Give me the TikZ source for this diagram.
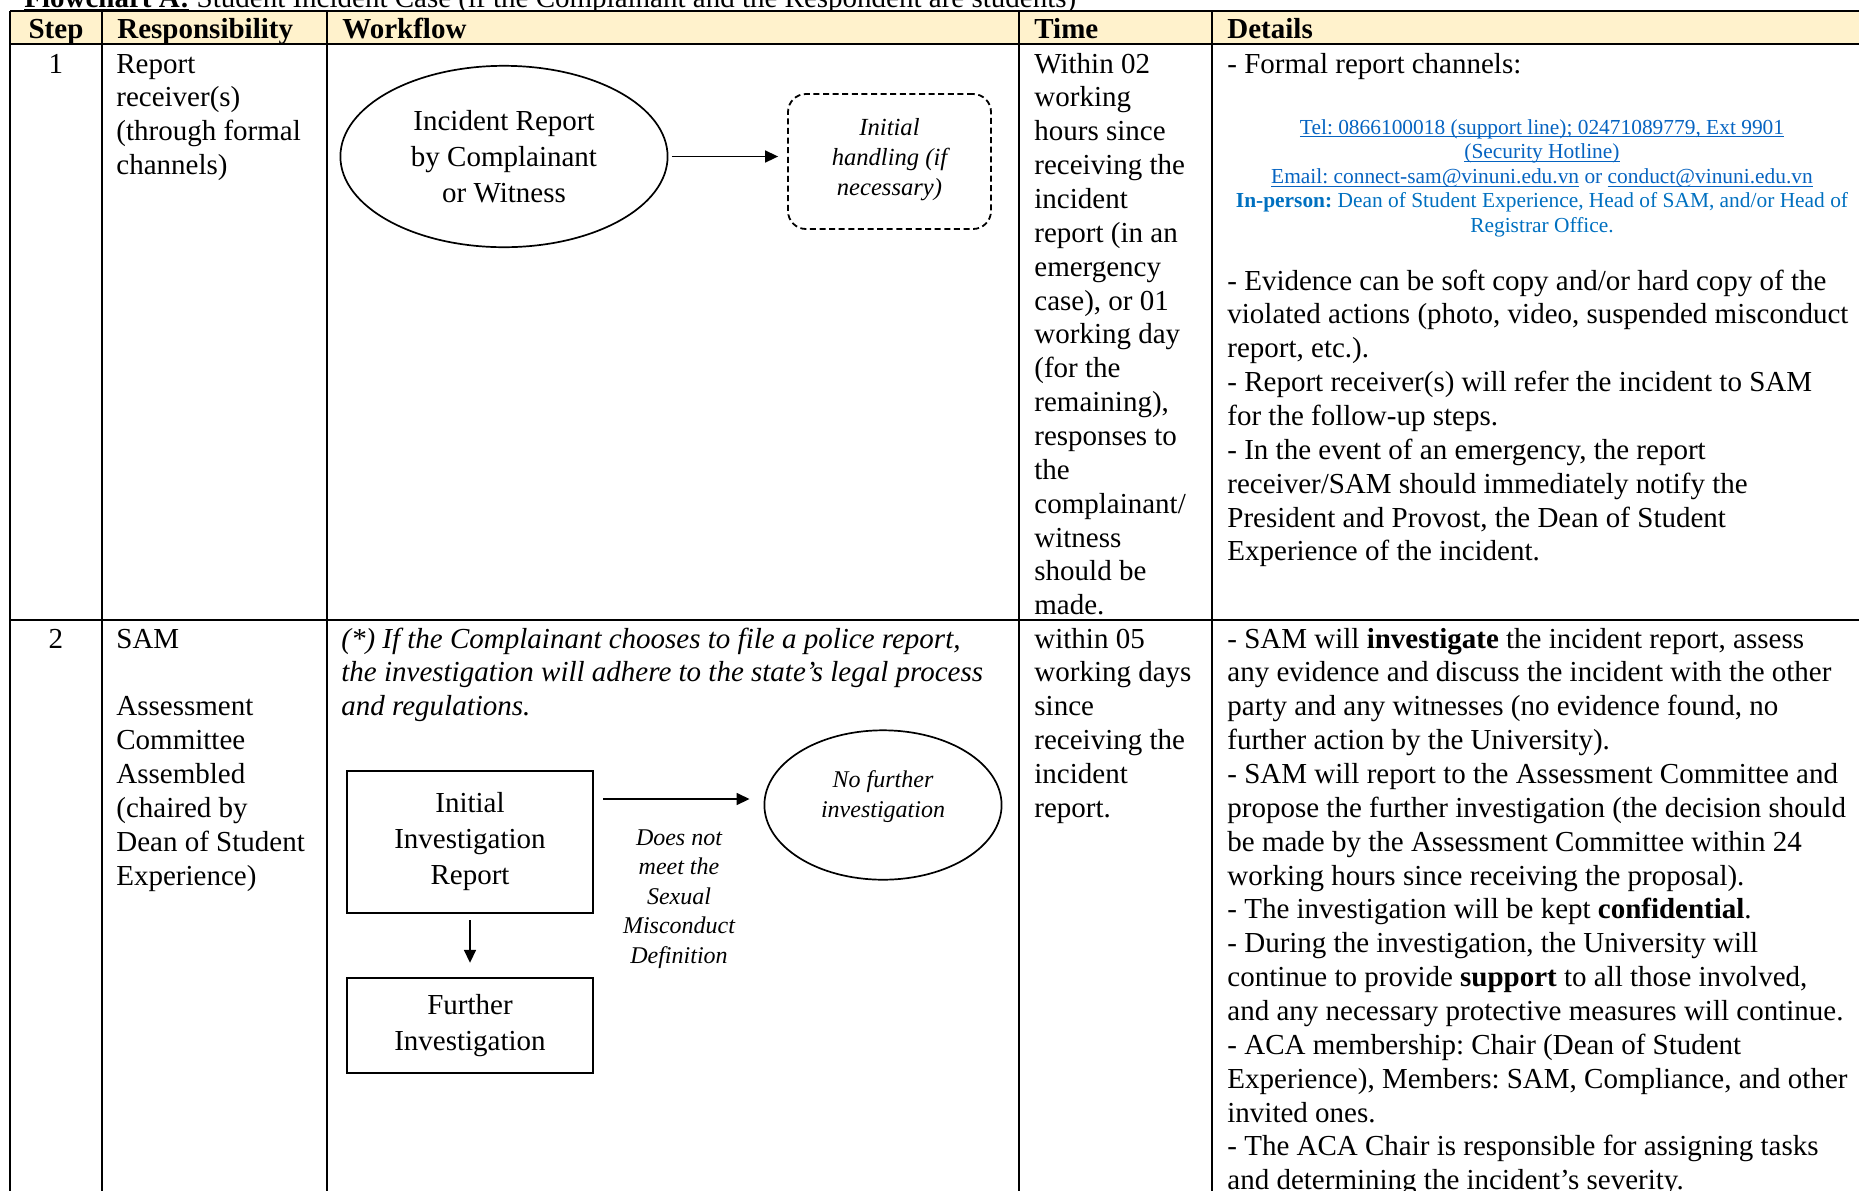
\documentclass[tikz,border=0pt]{standalone}
\usepackage{fontspec}
\setmainfont{Liberation Serif}
\usetikzlibrary{arrows.meta,shapes.geometric}
\definecolor{hdr}{HTML}{FFF2CC}
\definecolor{lnk}{HTML}{0563C1}
\definecolor{lnkb}{HTML}{0070C0}
\frenchspacing
\newcommand\myul[1]{\setbox0\hbox{#1}\rlap{\rule[-1.7pt]{\wd0}{0.55pt}}\box0\relax}
\newcommand\leftlines[1]{\begin{tabular}[t]{@{}l@{}}#1\end{tabular}}
\newcommand\centerlines[1]{\begin{tabular}[t]{@{}c@{}}#1\end{tabular}}
\begin{document}
\begin{tikzpicture}[x=0.5pt,y=-0.5pt,
  grid/.style={line width=1pt},
  txt/.style={inner sep=0pt,anchor=base west,font=\fontsize{14.5pt}{16.93pt}\selectfont},
  hd/.style={inner sep=0pt,anchor=base west,font=\fontsize{14.5pt}{16.93pt}\selectfont\bfseries},
  small/.style={inner sep=0pt,anchor=base,font=\fontsize{12pt}{14.8pt}\selectfont\itshape},
  arr/.style={line width=0.8pt,-{Triangle[length=6.5pt,width=6pt]}},
  ovalnode/.style={ellipse,draw,line width=0.85pt,inner sep=0pt},
  boxnode/.style={rectangle,draw,line width=1.2pt,inner sep=0pt,align=center,font=\fontsize{14.5pt}{18pt}\selectfont}]
\useasboundingbox (0,0) rectangle (1859,1190);
\clip (0,0) rectangle (1859,1190);
% title (cut at top)
\node[txt] (title) at (24,7) {\textbf{\myul{Flowchart A:}} Student Incident Case (if the Complainant and the Respondent are students)};
% table
\fill[hdr] (10,11) rectangle (1880,44);
\draw[grid] (10,11) -- (1880,11);
\draw[grid] (10,44) -- (1880,44);
\draw[grid] (10,620) -- (1880,620);
\foreach \cx in {10,102,327,1019,1212} {\draw[grid] (\cx,11) -- (\cx,1200);}
% header
\node[hd,anchor=base] (hstep) at (56,38) {Step};
\node[hd] (hresp) at (117,38) {Responsibility};
\node[hd] (hflow) at (342,38) {Workflow};
\node[hd] (htime) at (1034,38) {Time};
\node[hd] (hdet) at (1227,38) {Details};
% row 1
\node[txt,anchor=base] (s1) at (56,73) {1};
\node[txt] (r1) at (116,73) {\leftlines{Report\\receiver(s)\\(through formal\\channels)}};
\node[txt] (t1) at (1034,73) {\leftlines{Within 02\\working\\hours since\\receiving the\\incident\\report (in an\\emergency\\case), or 01\\working day\\(for the\\remaining),\\responses to\\the\\complainant/\\witness\\should be\\made.}};
\node[txt] (d1a) at (1227,73) {- Formal report channels:};
\node[inner sep=0pt,anchor=base,text=lnk,font=\fontsize{10.7pt}{12.3pt}\selectfont] (d1b) at (1542,134)
  {\centerlines{\myul{Tel: 0866100018 (support line); 02471089779, Ext 9901}\\
   \myul{(Security Hotline)}\\
   \myul{Email: connect-sam@vinuni.edu.vn} or \myul{conduct@vinuni.edu.vn}\\
   {\color{lnkb}\textbf{In-person:} Dean of Student Experience, Head of SAM, and/or Head of}\\
   {\color{lnkb}Registrar Office.}}};
\node[txt] (d1c) at (1227,290) {\leftlines{- Evidence can be soft copy and/or hard copy of the\\violated actions (photo, video, suspended misconduct\\report, etc.).\\- Report receiver(s) will refer the incident to SAM\\for the follow-up steps.\\- In the event of an emergency, the report\\receiver/SAM should immediately notify the\\President and Provost, the Dean of Student\\Experience of the incident.}};
% row 1 workflow
\node[ovalnode,minimum width=163.6pt,minimum height=90.7pt,align=center,font=\fontsize{14.5pt}{18.1pt}\selectfont] (ell1) at (504,156.5) {Incident Report\\by Complainant\\or Witness};
\node[draw,dashed,dash pattern=on 3pt off 1.8pt,line width=0.9pt,rounded corners=9pt,minimum width=101.5pt,minimum height=67.5pt,inner sep=0pt] (hb) at (889.5,161.5) {};
\node[small,font=\fontsize{12.3pt}{15.1pt}\selectfont\itshape] (hbt) at (889.5,135) {\centerlines{Initial\\handling (if\\necessary)}};
\draw[arr] ([xshift=1.75pt]ell1.east) -- ([xshift=-4.5pt]ell1.east -| hb.west);
% row 2
\node[txt,anchor=base] (s2) at (56,648) {2};
\node[txt] (r2) at (116,648) {\leftlines{SAM\\[16.93pt]Assessment\\Committee\\Assembled\\(chaired by\\Dean of Student\\Experience)}};
\node[txt,font=\fontsize{14.5pt}{16.93pt}\selectfont\itshape] (w2) at (341,648) {\leftlines{(*) If the Complainant chooses to file a police report,\\the investigation will adhere to the state's legal process\\and regulations.}};
\node[txt] (t2) at (1034,648) {\leftlines{within 05\\working days\\since\\receiving the\\incident\\report.}};
\node[txt] (d2) at (1227,648) {\leftlines{- SAM will \textbf{investigate} the incident report, assess\\any evidence and discuss the incident with the other\\party and any witnesses (no evidence found, no\\further action by the University).\\- SAM will report to the Assessment Committee and\\propose the further investigation (the decision should\\be made by the Assessment Committee within 24\\working hours since receiving the proposal).\\- The investigation will be kept \textbf{confidential}.\\- During the investigation, the University will\\continue to provide \textbf{support} to all those involved,\\and any necessary protective measures will continue.\\- ACA membership: Chair (Dean of Student\\Experience), Members: SAM, Compliance, and other\\invited ones.\\- The ACA Chair is responsible for assigning tasks\\and determining the incident's severity.}};
% row 2 workflow
\node[boxnode,minimum width=123pt,minimum height=71pt] (ib) at (470,842) {Initial\\Investigation\\Report};
\node[boxnode,minimum width=123pt,minimum height=47.5pt] (fb) at (470,1025.5) {Further\\Investigation};
\node[ovalnode,minimum width=118.6pt,minimum height=74.7pt] (nf) at (883,805) {};
\node[small,font=\fontsize{12pt}{15.4pt}\selectfont\itshape] (nft) at (883,787) {\centerlines{No further\\investigation}};
\node[small] (dn) at (679,845) {\centerlines{Does not\\meet the\\Sexual\\Misconduct\\Definition}};
\coordinate (a1) at (ib.east |- nf.west);
\draw[arr] ([xshift=4.5pt,yshift=3pt]a1) -- ([xshift=-7pt,yshift=3pt]nf.west);
\draw[arr] ([yshift=-3pt]ib.south) -- ([yshift=7pt]fb.north);
\end{tikzpicture}
\end{document}
